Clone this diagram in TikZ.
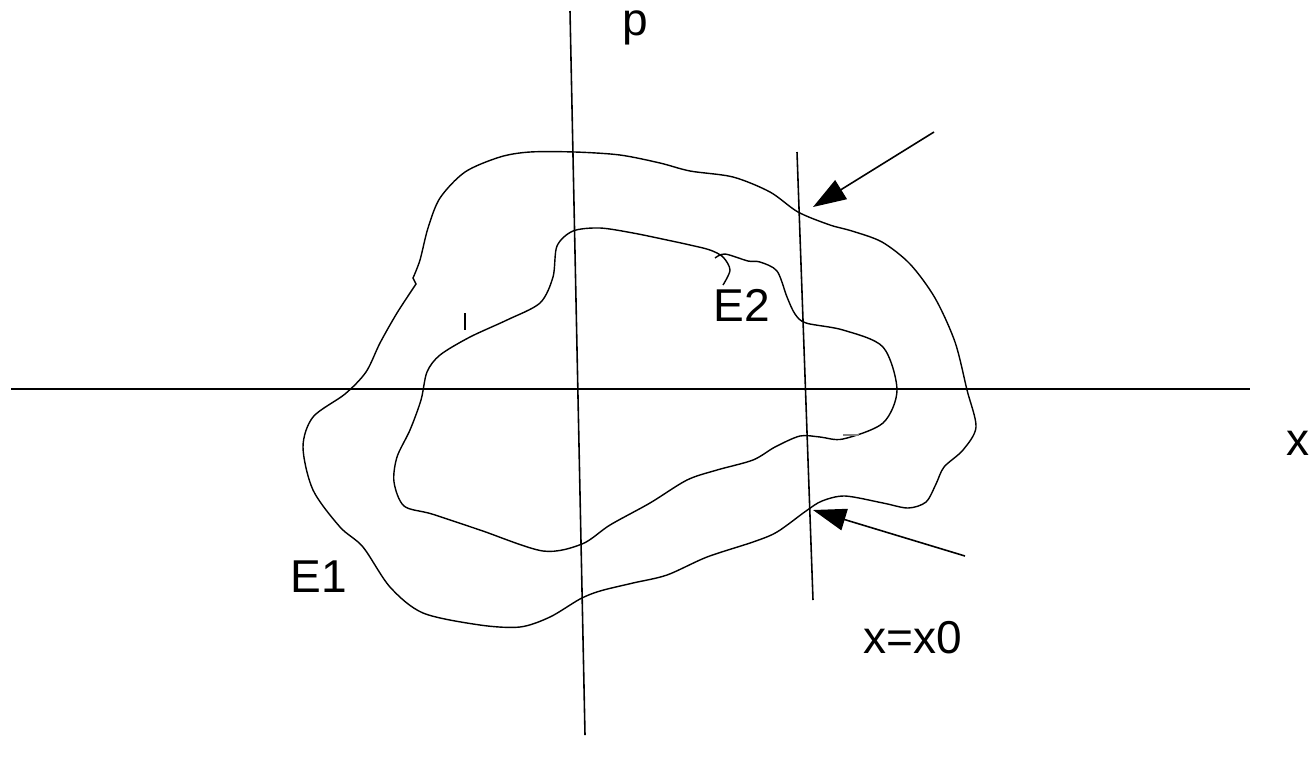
\documentclass[tikz,border=0pt]{standalone}
\usepackage{fontspec}
\setmainfont{Liberation Sans}
\usetikzlibrary{positioning,calc,arrows.meta}
\tikzset{>={Triangle[length=9.4pt,width=6.3pt]}}

\begin{document}
\begin{tikzpicture}[
    x=0.01cm, y=-0.01cm,
    line width=0.4pt,
    axis/.style={draw, line width=0.45pt},
    level/.style={draw, line width=0.4pt},
    pointer/.style={->, line width=0.45pt},
    lbl/.style={inner sep=0pt, anchor=base west, font=\fontsize{13.1}{15}\selectfont}
]
\useasboundingbox (0,0) rectangle (1312,766);

% axes and the line x=x0
\coordinate (xleft) at (11,389);
\coordinate (xright) at (1250,389);
\coordinate (ptop) at (570,11);
\coordinate (pbot) at (585,735);
\coordinate (ltop) at (797,152);
\coordinate (lbot) at (813,600);
\draw[axis] (xleft) -- (xright);
\draw[axis] (ptop) -- (pbot);
\draw[axis] (ltop) -- (lbot);

% labels
\node[lbl] (plabel) at (622,35) {p};
\node[lbl] (xlabel) at (1286,455) {x};
\node[lbl] (x0label) at (863,653) {x=x0};
\node[lbl] (e1label) at (290,592) {E1};
\node[lbl] (e2label) at (713,321) {E2};

% energy level E1
\draw[level] plot[smooth] coordinates {
    (413,278) (420,260) (428,228) (440,198) (465,172) (500,157) (530,152)
    (575,152) (620,155) (660,163) (690,171) (733,177) (770,192) (798,212)
    (830,225) (852,231) (882,242) (910,264) (935,298) (955,342) (967,390)
    (976,427) (963,450) (944,467) (936,484) (926,502) (908,508) (883,503)
    (845,496) (822,501) (806,511) (777,532) (753,542) (707,557) (667,575)
    (633,583) (600,591) (580,599) (550,617) (520,627) (480,625) (423,613)
    (390,587) (363,547) (340,527) (313,490) (303,447) (313,417) (345,394)
    (366,372) (380,343) (397,313) (416,284)} -- cycle;

% energy level E2
\draw[level] plot[smooth] coordinates {
    (723,285) (730,270) (723,257) (710,250) (690,245) (667,240) (633,233)
    (600,228) (573,231) (557,246) (553,277) (540,303) (507,320) (470,337)
    (440,355) (427,372) (421,400) (410,430) (397,457) (394,482) (404,506)
    (432,514) (480,530) (543,551) (582,544) (610,525) (650,503) (687,480)
    (717,470) (753,460) (775,447) (800,436) (820,437) (843,439) (883,423)
    (897,390) (883,347) (843,330) (806,323) (795,314) (787,297) (777,271)
    (760,262) (748,261) (725,254) (715,258)};

% stray marks
\coordinate (tka) at (465,313);
\coordinate (tkb) at (465,330);
\draw[line width=0.35pt] (tka) -- (tkb);
\coordinate (dsa) at (843,435);
\coordinate (dsb) at (859,435);
\draw[gray, line width=0.5pt] (dsa) -- (dsb);

% arrows to the crossing points
\coordinate (atail) at (934,132);
\coordinate (ahead) at (813,207);
\coordinate (btail) at (965,556);
\coordinate (bhead) at (813,510);
\draw[pointer] (atail) -- (ahead);
\draw[pointer] (btail) -- (bhead);
\end{tikzpicture}
\end{document}
